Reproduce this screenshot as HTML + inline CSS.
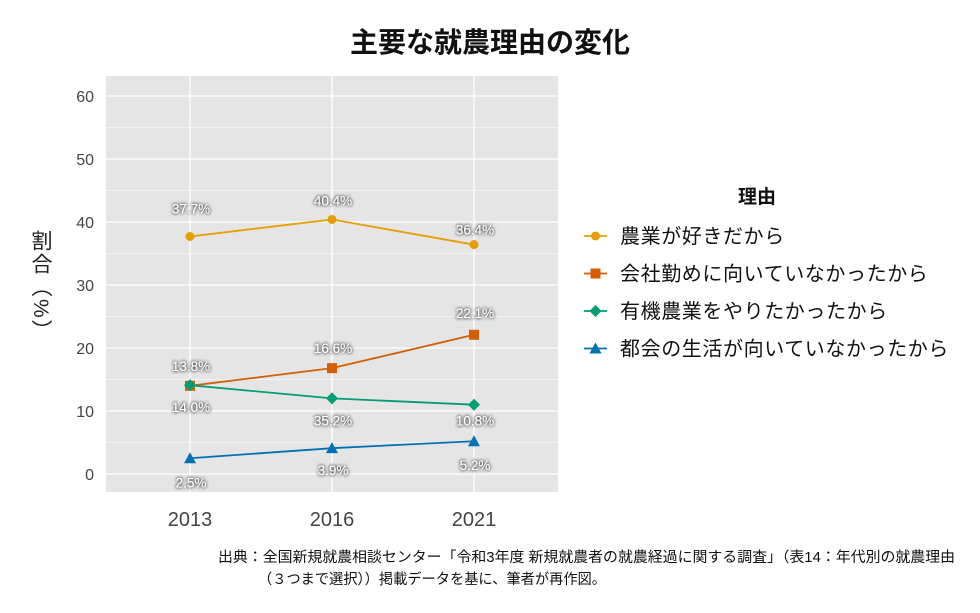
<!DOCTYPE html>
<html><head><meta charset="utf-8"><style>
body{margin:0;background:#fff;width:980px;height:608px;overflow:hidden;font-family:"Liberation Sans","Noto Sans CJK JP",sans-serif;position:relative}
svg text{font-family:"Liberation Sans","Noto Sans CJK JP",sans-serif}
#ytitle{position:absolute;left:27px;top:230px;writing-mode:vertical-rl;font-size:21px;color:#222;line-height:26px;letter-spacing:2px}
</style></head><body>
<svg id="chart" width="980" height="608">
<defs><filter id="halo" x="-20%" y="-40%" width="140%" height="180%"><feGaussianBlur in="SourceAlpha" stdDeviation="1.6" result="b"/><feFlood flood-color="#333" flood-opacity="0.9"/><feComposite in2="b" operator="in" result="s"/><feMerge><feMergeNode in="s"/><feMergeNode in="s"/><feMergeNode in="SourceGraphic"/></feMerge></filter></defs>
<text x="490" y="52" text-anchor="middle" font-size="28" font-weight="bold" fill="#111">主要な就農理由の変化</text>
<rect x="106" y="76" width="452" height="416" fill="#e5e5e5"/>
<g id="grid"></g><g id="series"></g><g id="labels"></g><g id="axes"></g>
<text x="757" y="203" text-anchor="middle" font-size="19" font-weight="bold" fill="#111">理由</text>
<g id="legend"></g>
<g font-size="14.5" fill="#111">
<text x="218" y="562" textLength="737" lengthAdjust="spacingAndGlyphs">出典：全国新規就農相談センター「令和3年度 新規就農者の就農経過に関する調査」（表14：年代別の就農理由</text>
<text x="258" y="584" textLength="348" lengthAdjust="spacingAndGlyphs">（３つまで選択））掲載データを基に、筆者が再作図。</text>
</g>
</svg>
<div id="ytitle">割合（%）</div>
<script>
const years=["2013","2016","2021"];
const seriesNames=["農業が好きだから","会社勤めに向いていなかったから","有機農業をやりたかったから","都会の生活が向いていなかったから"];
const likeFarming=[37.7,40.4,36.4];
const notOffice=[14.0,16.8,22.1];
const organic=[14.1,12.0,11.0];
const notCity=[2.5,4.1,5.2];
const likeLabels=["37.7%","40.4%","36.4%"];
const officeLabels=["13.8%","16.6%","22.1%"];
const organicLabels=["14.0%","35.2%","10.8%"];
const cityLabels=["2.5%","3.9%","5.2%"];
const yTicks=[0,10,20,30,40,50,60];
const NS="http://www.w3.org/2000/svg";
function el(t,a,p){const e=document.createElementNS(NS,t);for(const k in a)e.setAttribute(k,a[k]);p.appendChild(e);return e;}
const y=v=>474-v*6.3;
const x=i=>190+i*142;
const grid=document.getElementById('grid'),axes=document.getElementById('axes');
for(let v=-5;v<=65;v+=5){if(y(v)<76||y(v)>492)continue;
 const l=el('line',{x1:106,x2:558,y1:y(v),y2:y(v),stroke:'#fff','stroke-width':v%10===0?1.3:0.6},grid);
 
 }
years.forEach((yr,i)=>{const l=el('line',{x1:x(i),x2:x(i),y1:76,y2:492,stroke:'#fff','stroke-width':1.3},grid);
 
 
 const t=el('text',{x:x(i),y:526,'text-anchor':'middle','font-size':20,fill:'#444'},axes);t.textContent=yr;
 
 });
yTicks.forEach(v=>{const t=el('text',{x:94,y:y(v)+6,'text-anchor':'end','font-size':16,fill:'#444'},axes);t.textContent=v;
 
 });
const colors=["#e69f00","#d55e00","#009e73","#0072b2"];
const shapes=["circle","square","diamond","triangle"];
const vals=[likeFarming,notOffice,organic,notCity];
const labs=[likeLabels,officeLabels,organicLabels,cityLabels];
const labelDy=[[-28,-19,-15],[-20,-20,-22],[22,22,16],[24,22,24]];
function marker(g,s,cx,cy,c){
 if(s==='circle')return el('circle',{cx,cy,r:4.5,fill:c},g);
 if(s==='square')return el('rect',{x:cx-5,y:cy-5,width:10,height:10,fill:c},g);
 if(s==='diamond')return el('polygon',{points:`${cx},${cy-6} ${cx+6},${cy} ${cx},${cy+6} ${cx-6},${cy}`,fill:c},g);
 return el('polygon',{points:`${cx},${cy-6} ${cx+6},${cy+5} ${cx-6},${cy+5}`,fill:c},g);}
const sg=document.getElementById('series'),lg=document.getElementById('labels'),leg=document.getElementById('legend');
vals.forEach((arr,s)=>{
 const p=el('polyline',{points:arr.map((v,i)=>x(i)+','+y(v)).join(' '),fill:'none',stroke:colors[s],'stroke-width':1.8},sg);
 
 
 arr.forEach((v,i)=>{const m=marker(sg,shapes[s],x(i),y(v),colors[s]);
  
  
  const t=el('text',{x:x(i)+1,y:y(v)+labelDy[s][i]+5,'text-anchor':'middle','font-size':13.5,fill:'#fff',filter:'url(#halo)'},lg);
  t.textContent=labs[s][i];
  
  });
 const ly=236+s*37.5;
 const g=el('g',{},leg);
 
 
 el('line',{x1:584,x2:607,y1:ly,y2:ly,stroke:colors[s],'stroke-width':1.8},g);
 marker(g,shapes[s],595.5,ly,colors[s]);
 const t=el('text',{x:620,y:ly+7,'font-size':20,fill:'#111','letter-spacing':'0.6'},g);t.textContent=seriesNames[s];
});
</script>
</body></html>
